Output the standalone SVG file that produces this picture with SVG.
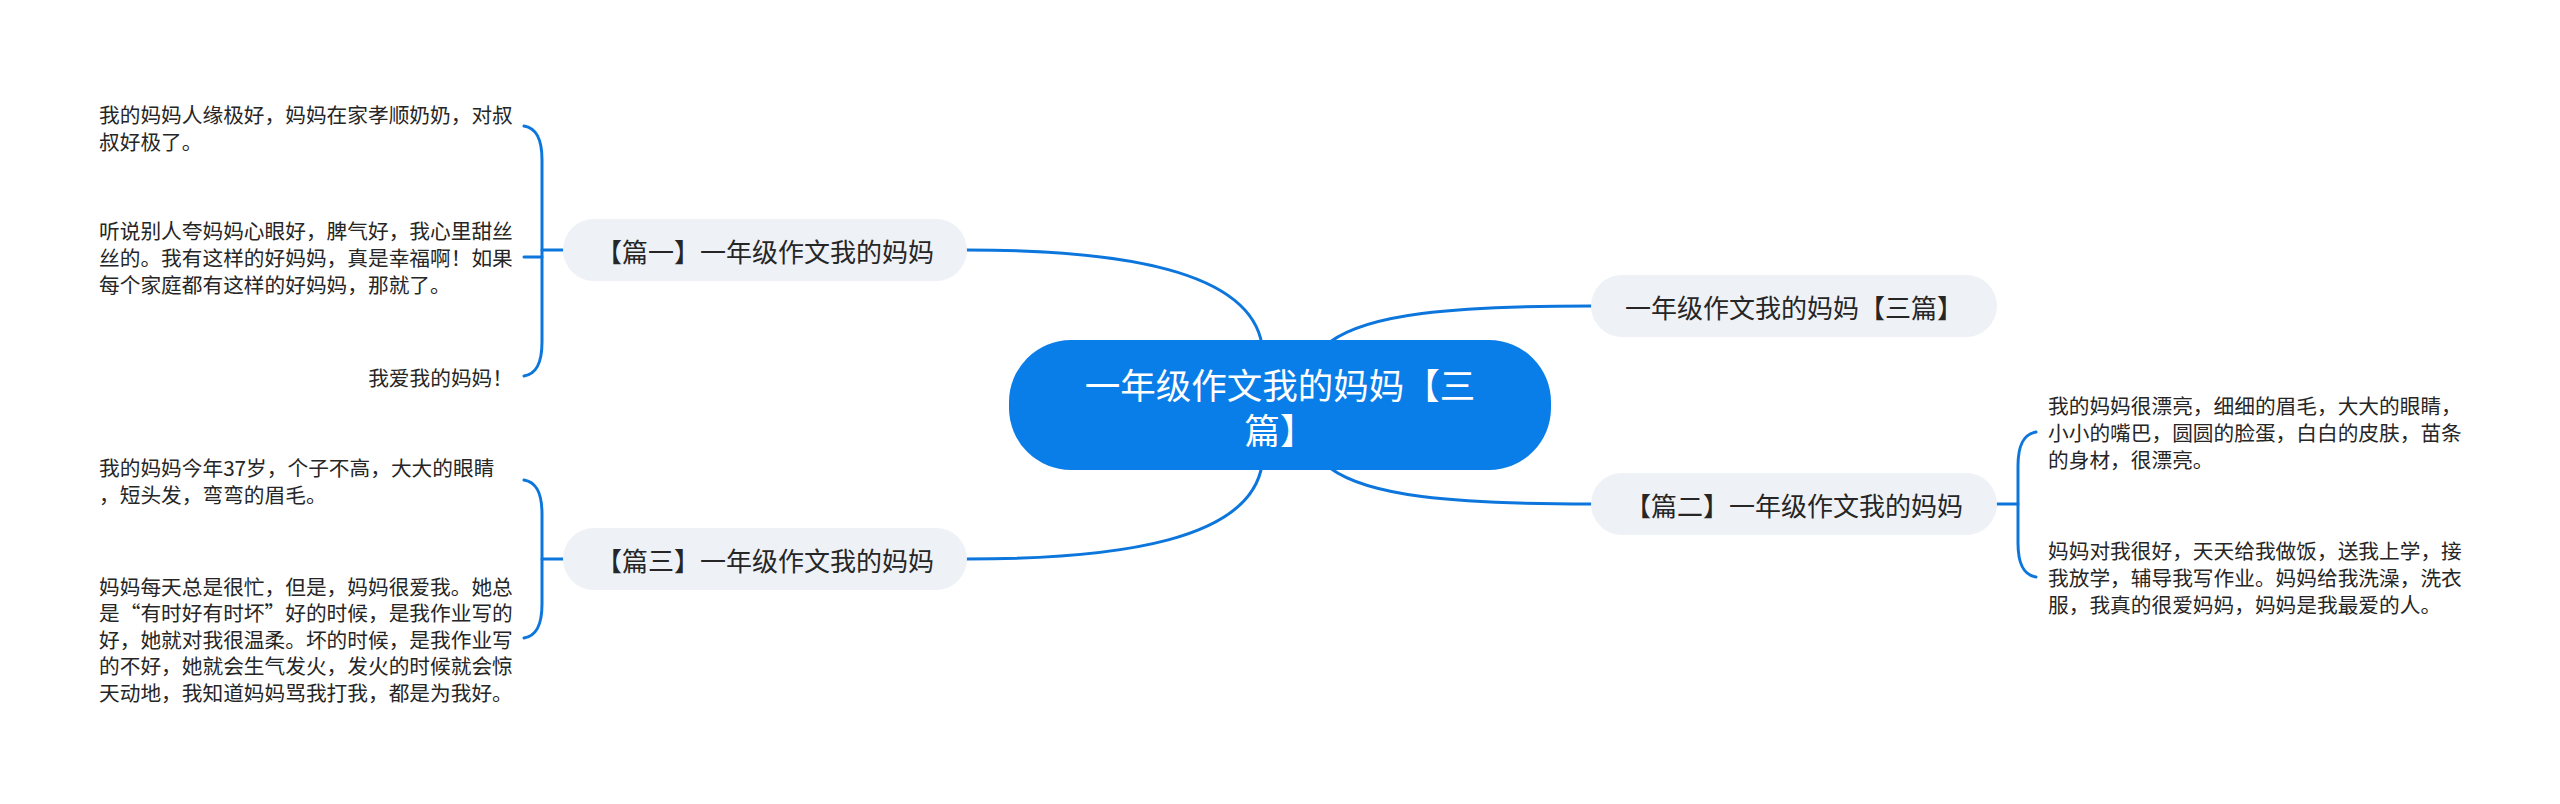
<svg xmlns="http://www.w3.org/2000/svg" width="2560" height="804" viewBox="0 0 2560 804">
<style>
text{font-family:"Noto Sans CJK SC","Noto Sans",sans-serif;dominant-baseline:central}
.root{fill:#0a7ee8}
.rootText{fill:#ffffff;font-size:35.5px;text-anchor:middle}
.sub{fill:#eef1f5}
.subText{fill:#262626;font-size:26px;text-anchor:middle}
.leaf{fill:#262626;font-size:20.7px}
.line{fill:none;stroke:#0c76dc;stroke-width:3;stroke-linecap:round}
</style>
<rect width="2560" height="804" fill="#ffffff"/>
<g id="connectors">
<path class="line" d="M967 250 C1120 250 1250 270 1262 345"/>
<path class="line" d="M967 559 C1120 559 1250 540 1262 465"/>
<path class="line" d="M1330 342 C1368 314 1450 306 1591 306"/>
<path class="line" d="M1330 468 C1368 496 1450 504 1591 504"/>
<path class="line" d="M524 126 C536 128 542 138 542 160 L542 342 C542 364 536 374 524 376"/>
<path class="line" d="M542 250 L563 250"/>
<path class="line" d="M524 257 L542 257"/>
<path class="line" d="M524 480 C536 482 542 492 542 514 L542 604 C542 626 536 636 524 638"/>
<path class="line" d="M542 559 L563 559"/>
<path class="line" d="M2036 432 C2024 434 2018 444 2018 466 L2018 543 C2018 565 2024 575 2036 577"/>
<path class="line" d="M1997 504 L2018 504"/>
</g>
<g id="root">
<rect class="root" x="1009" y="340" width="542" height="130" rx="62"/>
<text class="rootText"><tspan x="1280" y="383">一年级作文我的妈妈【三</tspan><tspan x="1280" y="428">篇】</tspan></text>
</g>
<g id="topic1">
<rect class="sub" x="563" y="219" width="404" height="62" rx="31"/>
<text class="subText" x="765" y="250">【篇一】一年级作文我的妈妈</text>
</g>
<g id="topic3">
<rect class="sub" x="563" y="528" width="404" height="62" rx="31"/>
<text class="subText" x="765" y="559">【篇三】一年级作文我的妈妈</text>
</g>
<g id="topicAll">
<rect class="sub" x="1591" y="275" width="406" height="62" rx="31"/>
<text class="subText" x="1794" y="306">一年级作文我的妈妈【三篇】</text>
</g>
<g id="topic2">
<rect class="sub" x="1591" y="473" width="406" height="62" rx="31"/>
<text class="subText" x="1794" y="504">【篇二】一年级作文我的妈妈</text>
</g>
<g id="leaf1a">
<text class="leaf" x="99" y="113.5">我的妈妈人缘极好，妈妈在家孝顺奶奶，对叔</text>
<text class="leaf" x="99" y="140.5">叔好极了。</text>
</g>
<g id="leaf1b">
<text class="leaf" x="99" y="230">听说别人夸妈妈心眼好，脾气好，我心里甜丝</text>
<text class="leaf" x="99" y="257">丝的。我有这样的好妈妈，真是幸福啊！如果</text>
<text class="leaf" x="99" y="284">每个家庭都有这样的好妈妈，那就了。</text>
</g>
<g id="leaf1c">
<text class="leaf" x="513" y="377" text-anchor="end">我爱我的妈妈！</text>
</g>
<g id="leaf3a">
<text class="leaf" x="99" y="466.5">我的妈妈今年37岁，个子不高，大大的眼睛</text>
<text class="leaf" x="99" y="493.5">，短头发，弯弯的眉毛。</text>
</g>
<g id="leaf3b">
<text class="leaf" x="99" y="585.5">妈妈每天总是很忙，但是，妈妈很爱我。她总</text>
<text class="leaf" x="99" y="612">是“有时好有时坏”好的时候，是我作业写的</text>
<text class="leaf" x="99" y="638.5">好，她就对我很温柔。坏的时候，是我作业写</text>
<text class="leaf" x="99" y="665">的不好，她就会生气发火，发火的时候就会惊</text>
<text class="leaf" x="99" y="691.5">天动地，我知道妈妈骂我打我，都是为我好。</text>
</g>
<g id="leaf2a">
<text class="leaf" x="2048" y="405">我的妈妈很漂亮，细细的眉毛，大大的眼睛，</text>
<text class="leaf" x="2048" y="432">小小的嘴巴，圆圆的脸蛋，白白的皮肤，苗条</text>
<text class="leaf" x="2048" y="459">的身材，很漂亮。</text>
</g>
<g id="leaf2b">
<text class="leaf" x="2048" y="550">妈妈对我很好，天天给我做饭，送我上学，接</text>
<text class="leaf" x="2048" y="577">我放学，辅导我写作业。妈妈给我洗澡，洗衣</text>
<text class="leaf" x="2048" y="604">服，我真的很爱妈妈，妈妈是我最爱的人。</text>
</g>
</svg>
